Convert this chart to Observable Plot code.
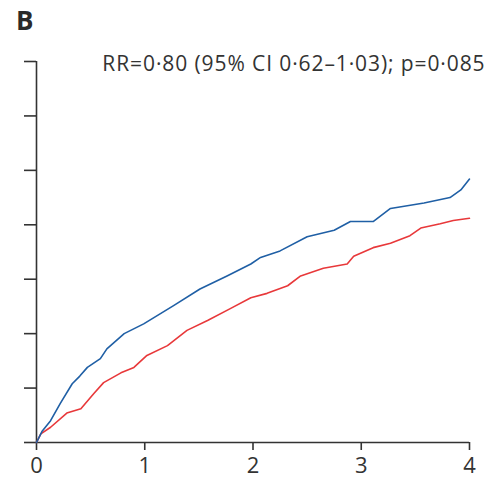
<!DOCTYPE html>
<html>
<head>
<meta charset="utf-8">
<script src="https://cdn.jsdelivr.net/npm/d3@7"></script>
<script src="https://cdn.jsdelivr.net/npm/@observablehq/plot@0.6"></script>
<style>
  html, body { margin: 0; padding: 0; background: #fff; }
  #wrap { position: relative; width: 489px; height: 478px; font-family: "Open Sans", sans-serif; }
  #panel { position: absolute; left: 16px; top: 5px; font-size: 26px; font-weight: bold; color: #2a2a2a; line-height: 1.2; }
</style>
</head>
<body>
<div id="wrap"><div id="panel"></div></div>
<script>
const panelLabel = "B";
const subtitle = "RR=0·80 (95% CI 0·62–1·03); p=0·085";
const xTicks = [0, 1, 2, 3, 4];
const yTicks = [0, 5, 10, 15, 20, 25, 30, 35];

const blueX = [0, 0.05, 0.13, 0.22, 0.33, 0.40, 0.47, 0.59, 0.65, 0.81, 0.99, 1.27, 1.51, 1.76, 1.98, 2.07, 2.25, 2.50, 2.75, 2.90, 3.11, 3.27, 3.58, 3.82, 3.92, 4.0];
const blueY = [0, 1.0, 2.0, 3.6, 5.4, 6.1, 6.9, 7.7, 8.6, 10.0, 10.9, 12.6, 14.1, 15.3, 16.4, 17.0, 17.6, 18.9, 19.5, 20.3, 20.3, 21.5, 22.0, 22.5, 23.2, 24.2];

const redX = [0, 0.04, 0.13, 0.28, 0.41, 0.53, 0.62, 0.78, 0.90, 1.02, 1.21, 1.39, 1.58, 1.79, 1.98, 2.13, 2.32, 2.44, 2.65, 2.87, 2.93, 3.11, 3.27, 3.45, 3.55, 3.73, 3.85, 4.0];
const redY = [0, 0.8, 1.4, 2.7, 3.1, 4.5, 5.5, 6.4, 6.9, 8.0, 8.9, 10.3, 11.2, 12.3, 13.3, 13.7, 14.4, 15.3, 16.0, 16.4, 17.1, 17.9, 18.3, 19.0, 19.7, 20.1, 20.4, 20.6];

const blue = blueX.map((x, i) => ({x, y: blueY[i]}));
const red = redX.map((x, i) => ({x, y: redY[i]}));

document.getElementById("panel").textContent = panelLabel;

const axisColor = "#333";

const chart = Plot.plot({
  width: 489,
  height: 478,
  marginLeft: 36,
  marginRight: 20,
  marginTop: 61,
  marginBottom: 36,
  style: {fontFamily: "Open Sans, sans-serif", color: axisColor, background: "transparent"},
  x: {domain: [0, 4], axis: null},
  y: {domain: [0, 35], axis: null},
  marks: [
    Plot.axisY({ticks: yTicks, tickSize: 12, tickFormat: () => "", label: null, strokeWidth: 1.6, stroke: axisColor}),
    Plot.axisX({ticks: xTicks, tickSize: 8, tickPadding: 7, tickFormat: d3.format("d"), fontSize: 22, label: null, strokeWidth: 1.6, stroke: axisColor, fill: axisColor}),
    Plot.ruleX([0], {y1: 0, y2: 35, stroke: axisColor, strokeWidth: 1.6}),
    Plot.ruleY([0], {x1: 0, x2: 4, stroke: axisColor, strokeWidth: 1.6}),
    Plot.line(red, {x: "x", y: "y", stroke: "#e8383a", strokeWidth: 1.6}),
    Plot.line(blue, {x: "x", y: "y", stroke: "#1f5fa5", strokeWidth: 1.6}),
    Plot.text([subtitle], {frameAnchor: "top-right", dx: 16, dy: -5, fontSize: 21, fill: "#333", lineAnchor: "top", textAnchor: "end"})
  ]
});
chart.querySelectorAll("text").forEach(t => { if (t.textContent === subtitle) t.setAttribute("letter-spacing", "0.9"); });
document.getElementById("wrap").prepend(chart);
chart.style.position = "absolute";
chart.style.left = "0";
chart.style.top = "0";
</script>
</body>
</html>
